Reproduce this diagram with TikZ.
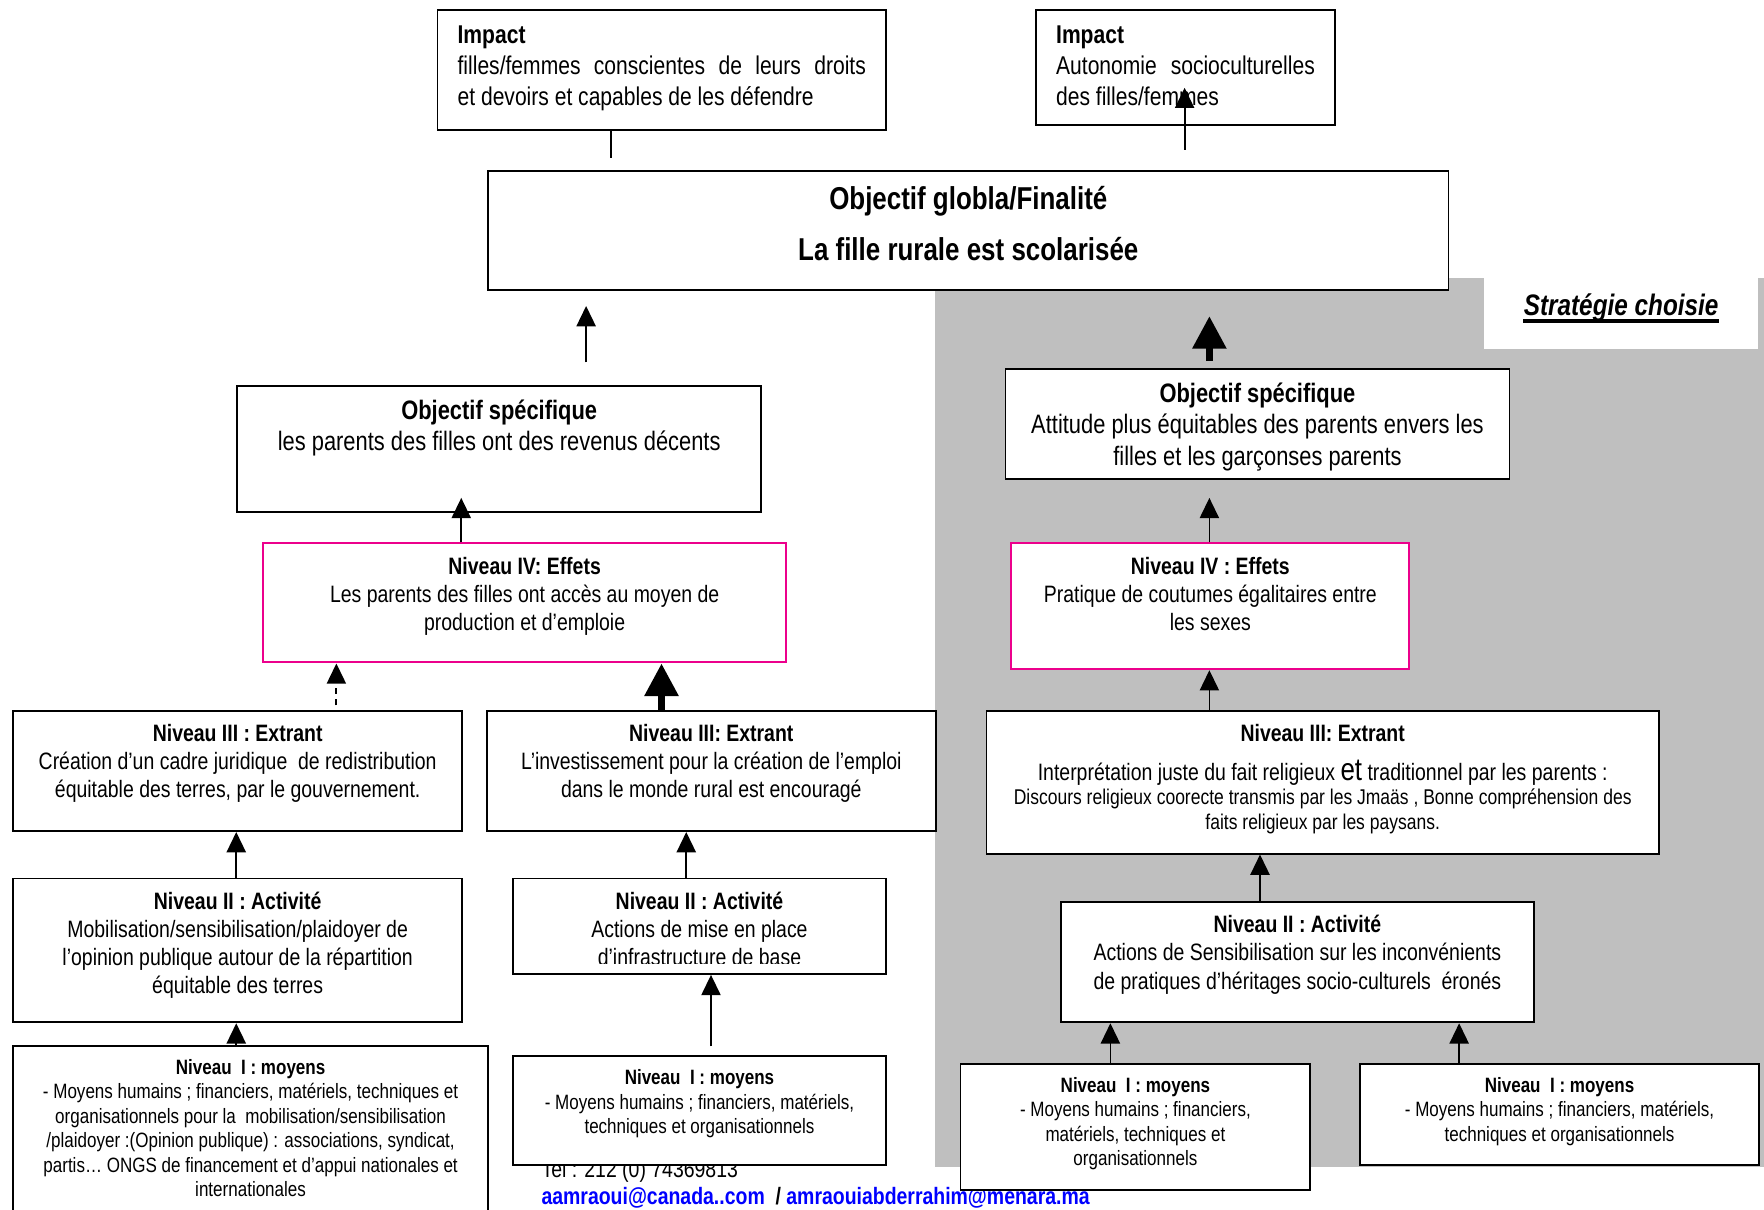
\documentclass[tikz,border=0pt]{standalone}
\usepackage{fontspec}
\setmainfont{Liberation Sans}[FakeStretch=0.82]
\usetikzlibrary{arrows.meta}

\definecolor{stratgray}{gray}{0.75}
\definecolor{linkblue}{RGB}{0,0,255}
\newcommand{\cell}[3]{\parbox[c][#2][t]{#1}{\centering\strut #3}}
\newcommand{\lcell}[3]{\parbox[c][#2][t]{#1}{\strut #3}}

\tikzset{
  box/.style={draw, line width=0.9pt, fill=white, anchor=north west, inner xsep=0.1cm, inner ysep=0.2cm},
  effet/.style={box, draw=magenta, line width=1pt},
  nivtext/.style={font=\fontsize{12pt}{14.2pt}\selectfont},
  objtext/.style={font=\fontsize{13.5pt}{16pt}\selectfont},
  imptext/.style={font=\fontsize{13pt}{15.6pt}\selectfont},
  moytext/.style={font=\fontsize{10.5pt}{12.4pt}\selectfont},
  arr/.style={-{Triangle[length=0.36cm,width=0.34cm]}, line width=0.9pt},
  bigarr/.style={-{Triangle[length=0.58cm,width=0.58cm]}, line width=3.6pt},
}

\begin{document}
\begin{tikzpicture}[x=0.02cm, y=-0.02cm]
  \useasboundingbox (0,0) rectangle (1568,1075);

  % strategie choisie (fond gris)
  \fill[stratgray] (831,247) rectangle (1568,1037);
  \fill[white] (1319,240) rectangle (1563,310);
  \node[anchor=base, inner sep=0pt, font=\fontsize{15pt}{17pt}\selectfont\bfseries\itshape] (strat) at (1441,280) {Stratégie choisie};
  \draw[line width=1.8pt] ([yshift=-3pt]strat.base west) -- ([yshift=-3pt]strat.base east);

  % pied de page
  \node[anchor=base west, inner sep=0pt, font=\fontsize{12pt}{14pt}\selectfont] (tel) at (481,1047) {Tel : 212 (0) 74369813};
  \node[anchor=base west, inner sep=0pt, font=\fontsize{12pt}{14pt}\selectfont\bfseries] (mail) at (481,1071)
    {\textcolor{linkblue}{\underline{aamraoui@canada..com}}\ \ /\ \textcolor{linkblue}{\underline{amraouiabderrahim@menara.ma}}};

  % impacts et finalite
  \node[box, imptext, inner xsep=0.36cm, inner ysep=0.22cm] (imp1) at (388,8)
    {\lcell{7.26cm}{1.70cm}{\textbf{Impact}\\ filles/femmes conscientes de leurs droits\linebreak et devoirs et capables de les défendre}};
  \node[box, imptext, inner xsep=0.36cm, inner ysep=0.22cm] (imp2) at (920,8)
    {\lcell{4.60cm}{1.60cm}{\textbf{Impact}\\ Autonomie socioculturelles\linebreak des filles/femmes}};
  \node[box, inner ysep=0.22cm, font=\fontsize{16pt}{19pt}\selectfont\bfseries] (glob) at (433,151)
    {\cell{16.88cm}{1.68cm}{Objectif globla/Finalité\\[7pt] La fille rurale est scolarisée}};

  % objectifs specifiques
  \node[box, objtext] (osL) at (210,342)
    {\cell{9.12cm}{1.84cm}{\textbf{Objectif spécifique}\\ les parents des filles ont des revenus décents}};
  \node[box, objtext] (osR) at (893,327)
    {\cell{8.76cm}{1.56cm}{\textbf{Objectif spécifique}\\ Attitude plus équitables des parents envers les\\ filles et les garçonses parents}};

  % niveau IV
  \node[effet, nivtext] (n4L) at (233,482)
    {\cell{9.10cm}{1.72cm}{\textbf{Niveau IV: Effets}\\ Les parents des filles ont accès au moyen de\\ production et d’emploie}};
  \node[effet, nivtext] (n4R) at (898,482)
    {\cell{6.88cm}{1.84cm}{\textbf{Niveau IV : Effets}\\ Pratique de coutumes égalitaires entre\\ les sexes}};

  % niveau III
  \node[box, nivtext] (n3a) at (11,631)
    {\cell{7.78cm}{1.74cm}{\textbf{Niveau III : Extrant}\\ Création d’un cadre juridique \ de redistribution\\ équitable des terres, par le gouvernement.}};
  \node[box, nivtext] (n3b) at (432,631)
    {\cell{7.78cm}{1.74cm}{\textbf{Niveau III: Extrant}\\ L’investissement pour la création de l’emploi\\ dans le monde rural est encouragé}};
  \node[box, nivtext] (n3R) at (876,631)
    {\cell{11.76cm}{2.14cm}{\textbf{Niveau III: Extrant}\\[4pt] Interprétation juste du fait religieux {\fontsize{16pt}{14.2pt}\selectfont et} traditionnel par les parents :\par
      {\fontsize{10.8pt}{12.4pt}\selectfont Discours religieux coorecte transmis par les Jmaäs , Bonne compréhension des\\ faits religieux par les paysans.\par}}};

  % niveau II
  \node[box, nivtext] (n2a) at (11,780)
    {\cell{7.78cm}{2.16cm}{\textbf{Niveau II : Activité}\\ Mobilisation/sensibilisation/plaidoyer de\\ l’opinion publique autour de la répartition\\ équitable des terres}};
  \node[box, nivtext] (n2b) at (455,780)
    {\cell{6.44cm}{1.30cm}{\textbf{Niveau II : Activité}\\ Actions de mise en place\\ d’infrastructure de base}};
  \fill[white] ([xshift=0.03cm, yshift=0.03cm]n2b.south west) rectangle ([xshift=-0.03cm, yshift=0.19cm]n2b.south east);
  \node[box, nivtext] (n2R) at (942,801)
    {\cell{8.22cm}{1.74cm}{\textbf{Niveau II : Activité}\\ Actions de Sensibilisation sur les inconvénients\\ de pratiques d’héritages socio-culturels \ éronés}};

  % niveau I
  \node[box, moytext] (n1a) at (11,929)
    {\cell{8.24cm}{2.80cm}{\textbf{Niveau \ I : moyens}\\ - Moyens humains ; financiers, matériels, techniques et\\ organisationnels pour la \ mobilisation/sensibilisation\\ /plaidoyer :(Opinion publique) : associations, syndicat,\\ partis… ONGS de financement et d’appui nationales et\\ internationales}};
  \node[box, moytext] (n1b) at (455,938)
    {\cell{6.44cm}{1.54cm}{\textbf{Niveau \ I : moyens}\\ - Moyens humains ; financiers, matériels,\\ techniques et organisationnels}};
  \node[box, moytext] (n1R1) at (853,945)
    {\cell{6.02cm}{1.84cm}{\textbf{Niveau \ I : moyens}\\ - Moyens humains ; financiers,\\ matériels, techniques et\\ organisationnels}};
  \node[box, moytext] (n1R2) at (1208,945)
    {\cell{6.90cm}{1.40cm}{\textbf{Niveau \ I : moyens}\\ - Moyens humains ; financiers, matériels,\\ techniques et organisationnels}};

  % fleches
  \coordinate (impLfoot) at (543,140);
  \coordinate (impRfoot) at (1053,133);
  \coordinate (impRtip) at (1053,78);
  \coordinate (osLfoot) at (521,322);
  \coordinate (osLtip) at (521,272);
  \coordinate (osRfoot) at (1075,321);
  \coordinate (osRtip) at (1075,281);
  \draw[line width=0.9pt] (imp1.south -| impLfoot) -- (impLfoot);
  \draw[arr] (impRfoot) -- (impRtip);
  \draw[arr] (osLfoot) -- (osLtip);
  \draw[bigarr] (osRfoot) -- (osRtip);

  \draw[arr, shorten >=-0.26cm] (n4L.north -| 410,0) -- (osL.south -| 410,0);
  \draw[arr, dashed, shorten <=0.08cm] (n3a.north -| 299,0) -- (n4L.south -| 299,0);
  \draw[bigarr] (n3b.north -| 588,0) -- (n4L.south -| 588,0);
  \draw[arr] (n2a.north -| 210,0) -- (n3a.south -| 210,0);
  \draw[arr] (n2b.north -| 610,0) -- (n3b.south -| 610,0);
  \draw[arr] (n1a.north -| 210,0) -- (n2a.south -| 210,0);
  \draw[arr, shorten <=0.16cm] (n1b.north -| 632,0) -- (n2b.south -| 632,0);

  \draw[arr, shorten >=0.32cm] (n4R.north -| 1075,0) -- (osR.south -| 1075,0);
  \draw[arr] (n3R.north -| 1075,0) -- (n4R.south -| 1075,0);
  \draw[arr] (n2R.north -| 1120,0) -- (n3R.south -| 1120,0);
  \draw[arr] (n1R1.north -| 987,0) -- (n2R.south -| 987,0);
  \draw[arr] (n1R2.north -| 1297,0) -- (n2R.south -| 1297,0);
\end{tikzpicture}
\end{document}
